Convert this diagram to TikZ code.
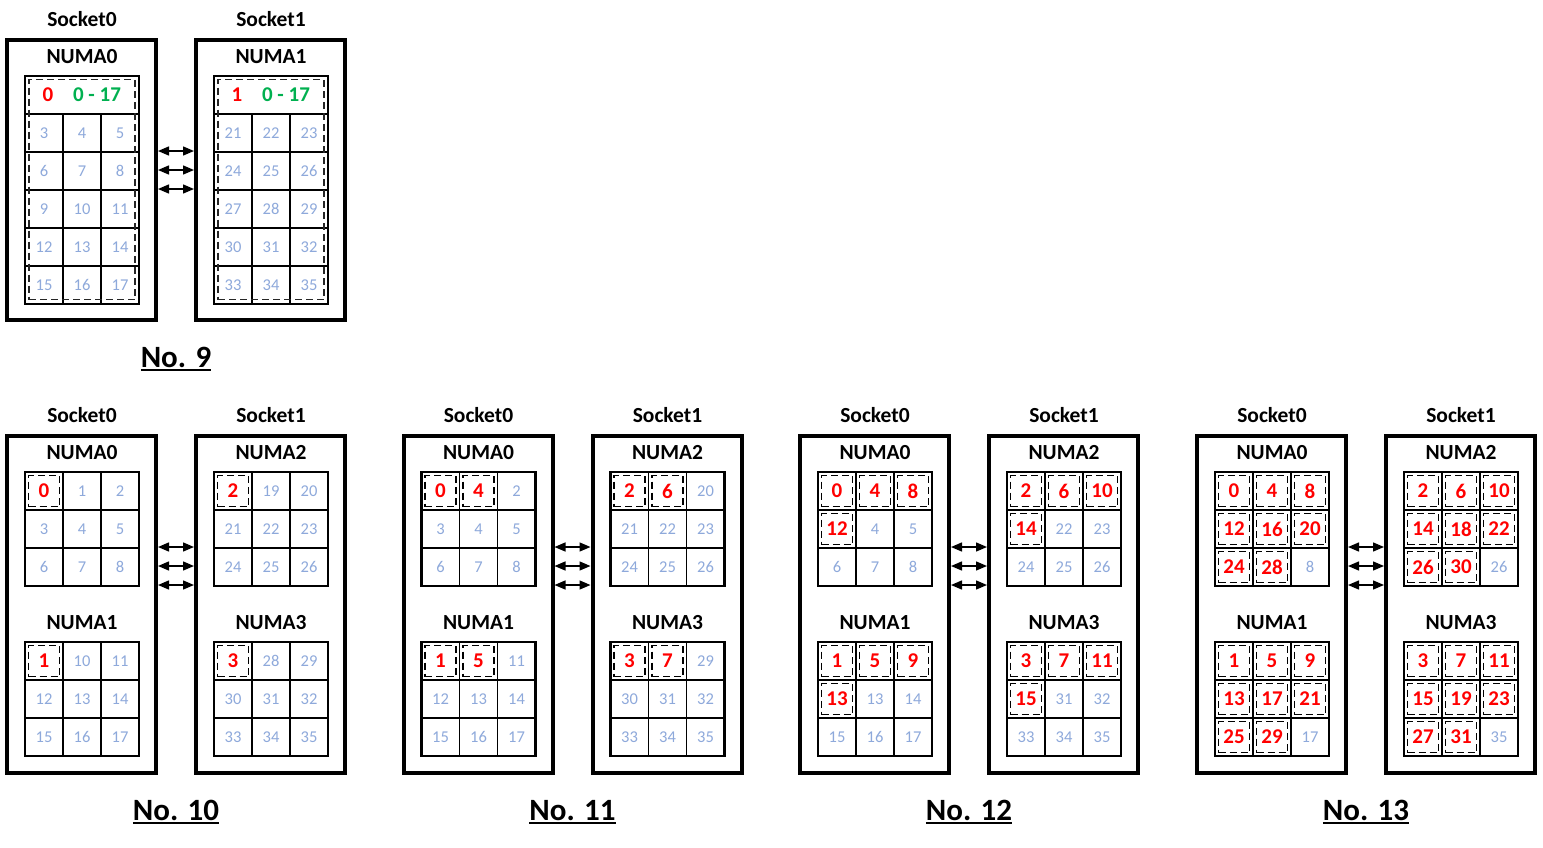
\documentclass[tikz,border=0pt]{standalone}
\usepackage{fontspec}
\setmainfont{Carlito}
\usetikzlibrary{arrows.meta}
\definecolor{faintblue}{RGB}{142,169,219}
\definecolor{pickred}{RGB}{255,0,0}
\definecolor{spangreen}{RGB}{0,176,80}
\newcommand{\capline}[1]{\setbox0\hbox{#1}\rlap{\usebox0}\rlap{\raisebox{-4pt}{\rule{\wd0}{2pt}}}\kern\wd0}

\begin{document}
\begin{tikzpicture}[x=1pt, y=-1pt,
  socket/.style={draw=black, line width=4pt, minimum width=149, inner sep=0, outer sep=0},
  socklabel/.style={font=\fontsize{21.5}{25}\selectfont\bfseries, inner sep=0},
  numagrid/.style={draw=black, line width=2.6pt, minimum width=114, inner sep=0, outer sep=0},
  core/.style={draw=black, line width=1.3pt, minimum width=38, minimum height=38, inner sep=0, outer sep=0, text=faintblue, font=\fontsize{16.5}{19}\selectfont},
  pick/.style={draw=black, line width=1.3pt, dash pattern=on 7pt off 4pt, minimum width=31, minimum height=31, inner sep=0, text=pickred, font=\fontsize{21}{25}\selectfont\bfseries},
  pickspan/.style={draw=black!85, line width=1.3pt, dash pattern=on 7pt off 4pt, inner sep=0},
  pickno/.style={text=pickred, font=\fontsize{21}{25}\selectfont\bfseries, inner sep=0},
  span/.style={text=spangreen, font=\fontsize{21}{25}\selectfont\bfseries, inner sep=0},
  link/.style={{Triangle[length=11pt,width=9pt]}-{Triangle[length=11pt,width=9pt]}, line width=1.4pt, shorten <=2pt, shorten >=2pt},
  caption/.style={font=\fontsize{31}{37}\selectfont\bfseries, inner sep=0}
]

\fill[white] (0,0) rectangle (1543,847);
\useasboundingbox (0,0) rectangle (1543,847);

%% NO. 9 (one NUMA per socket)
\foreach \s in {0,1} {
  \pgfmathsetmacro{\gx}{25+189*\s}
  \node[socket, minimum height=280] (s9-\s) at (81.5+189*\s, 180) {};
  \node[socklabel] (sl9-\s) at (82+189*\s, 19) {Socket\s};
  \node[socklabel] (nl9-\s) at (82+189*\s, 57) {NUMA\s};
  % merged first row
  \node[core, minimum width=114] (top9-\s) at (\gx+57, 95) {};
  \foreach \row in {1,...,5}
    \foreach \col in {0,1,2} {
      \pgfmathtruncatemacro{\val}{18*\s+3*\row+\col}
      \node[core] (c9-\s-\row-\col) at (\gx+19+38*\col, 95+38*\row) {\val};
    }
  \node[pickspan, minimum width=106, minimum height=220] (d9-\s) at (\gx+57, 189.5) {};
  \node[numagrid, minimum height=228] (g9-\s) at (\gx+57, 190) {};
  \node[pickno] (p9-\s) at (\gx+23, 95) {\s};
  \node[span] (r9-\s) at (\gx+72, 95) {0 - 17};
}
\foreach \d in {111,130,149}
  \draw[link] ([yshift=-\d]s9-0.north east) -- ([yshift=-\d]s9-1.north west);
\node[caption] (no9) at (176, 359) {\capline{No. 9}};

%% NO. 10 - 13 (two NUMAs per socket)
\foreach \no/\ox/\cnt in {10/0/1, 11/396.5/2, 12/793/4, 13/1190/8} {
  \foreach \s in {0,1} {
    \node[socket, minimum height=337] (s\no-\s) at (\ox+81.5+189*\s, 604.5) {};
    \node[socklabel] (sl\no-\s) at (\ox+82+189*\s, 415) {Socket\s};
    \foreach \j in {0,1} {
      \pgfmathtruncatemacro{\m}{2*\s+\j}
      \pgfmathsetmacro{\gx}{\ox+25+189*\s}
      \pgfmathsetmacro{\gy}{472+170*\j}
      \node[socklabel] (nl\no-\m) at (\gx+57, \gy-19) {NUMA\m};
      \foreach \k in {0,...,8} {
        \pgfmathtruncatemacro{\row}{int(\k/3)}
        \pgfmathtruncatemacro{\col}{mod(\k,3)}
        \ifnum\k<\cnt
          \pgfmathtruncatemacro{\val}{\m+4*\k}
          \node[core] (c\no-\m-\k) at (\gx+19+38*\col, \gy+19+38*\row) {};
          \node[pick] (p\no-\m-\k) at (c\no-\m-\k) {\val};
        \else
          \pgfmathtruncatemacro{\val}{9*\m+\k}
          \node[core] (c\no-\m-\k) at (\gx+19+38*\col, \gy+19+38*\row) {\val};
        \fi
      }
      \node[numagrid, minimum height=114] (g\no-\m) at (\gx+57, \gy+57) {};
    }
  }
  \foreach \d in {111,130,149}
    \draw[link] ([yshift=-\d]s\no-0.north east) -- ([yshift=-\d]s\no-1.north west);
  \node[caption] (no\no) at (\ox+176, 812) {\capline{No. \no}};
}

\end{tikzpicture}
\end{document}
